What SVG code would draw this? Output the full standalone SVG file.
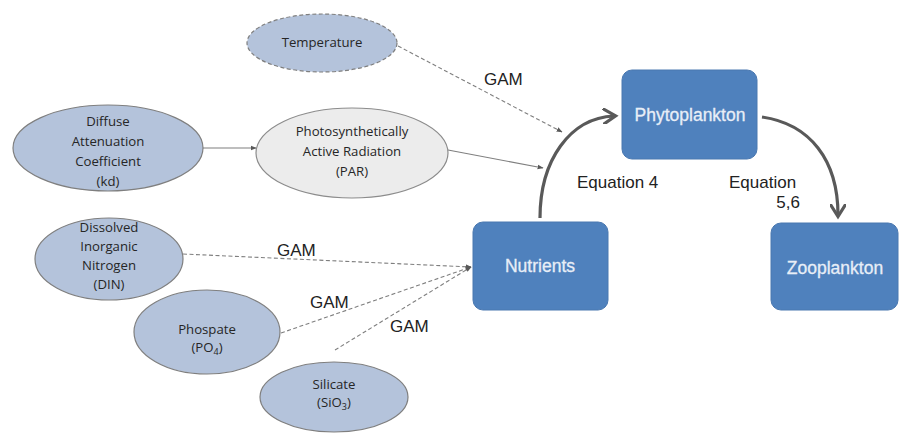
<svg xmlns="http://www.w3.org/2000/svg" width="899" height="437" viewBox="0 0 899 437">
<style>
.ell{fill:#b4c3db;stroke:#7f7f7f;stroke-width:1.2}
.dash{stroke-dasharray:4,2.5}
.et{font-family:"Open Sans","Liberation Sans",sans-serif;font-size:13.2px;fill:#262626;text-anchor:middle}
.box{fill:#4f81bd;stroke:#4a78b0;stroke-width:1}
.bt{font-family:"Liberation Sans",Arial,sans-serif;font-size:17.5px;fill:#e8eef7;text-anchor:middle;stroke:#e8eef7;stroke-width:0.3}
.lbl{font-family:"Liberation Sans",Arial,sans-serif;font-size:17px;fill:#222}
.thin{fill:none;stroke:#7f7f7f;stroke-width:1.1}
.thick{fill:none;stroke:#595959;stroke-width:3.2}
</style>
<defs>
<marker id="sm" viewBox="0 0 10 10" refX="9" refY="5" markerWidth="6" markerHeight="6" markerUnits="userSpaceOnUse" orient="auto"><path d="M0,1 L10,5 L0,9 z" fill="#595959"/></marker>
<marker id="big" viewBox="0 0 10 10" refX="7" refY="5" markerWidth="5" markerHeight="5" orient="auto"><path d="M0,0 L8,5 L0,10" fill="none" stroke="#595959" stroke-width="2"/></marker>
</defs>
<g id="connectors">
<path class="thin dash" d="M398,46 L562,132" marker-end="url(#sm)"/>
<path class="thin" d="M203,148 L256,148" marker-end="url(#sm)"/>
<path class="thin" d="M448,150 L543,168" marker-end="url(#sm)"/>
<path class="thin dash" d="M183,254 L471,267" marker-end="url(#sm)"/>
<path class="thin dash" d="M281,333 L471,267" marker-end="url(#sm)"/>
<path class="thin dash" d="M335,350 L471,267" marker-end="url(#sm)"/>
<path class="thick" d="M540,218 C540,160 570,118 614,116" marker-end="url(#big)"/>
<path class="thick" d="M762,117 C810,124 838,160 838,215" marker-end="url(#big)"/>
<text class="lbl" x="484" y="85">GAM</text>
<text class="lbl" x="277" y="256">GAM</text>
<text class="lbl" x="310" y="308">GAM</text>
<text class="lbl" x="390" y="332">GAM</text>
<text class="lbl" x="577" y="188">Equation 4</text>
<text class="lbl" x="729" y="188">Equation</text>
<text class="lbl" x="800" y="208" text-anchor="end">5,6</text>
</g>
<g id="temperature">
<ellipse class="ell dash" cx="322" cy="43" rx="75" ry="29"/>
<text class="et" x="322" y="47">Temperature</text>
</g>
<g id="kd">
<ellipse class="ell" cx="108" cy="148" rx="95" ry="43"/>
<text class="et" x="108" y="126">Diffuse</text>
<text class="et" x="108" y="146">Attenuation</text>
<text class="et" x="108" y="166">Coefficient</text>
<text class="et" x="108" y="186">(kd)</text>
</g>
<g id="par">
<ellipse cx="352" cy="153" rx="96" ry="45" fill="#ececec" stroke="#8c8c8c" stroke-width="1.2"/>
<text class="et" x="352" y="136">Photosynthetically</text>
<text class="et" x="352" y="156">Active Radiation</text>
<text class="et" x="352" y="176">(PAR)</text>
</g>
<g id="din">
<ellipse class="ell" cx="109" cy="259" rx="74" ry="41"/>
<text class="et" x="109" y="232">Dissolved</text>
<text class="et" x="109" y="251">Inorganic</text>
<text class="et" x="109" y="270">Nitrogen</text>
<text class="et" x="109" y="289">(DIN)</text>
</g>
<g id="phosphate">
<ellipse class="ell" cx="207" cy="332" rx="73" ry="42"/>
<text class="et" x="207" y="334">Phospate</text>
<text class="et" x="207" y="352">(PO<tspan font-size="9" dy="3">4</tspan><tspan dy="-3">)</tspan></text>
</g>
<g id="silicate">
<ellipse class="ell" cx="334" cy="397" rx="74" ry="35"/>
<text class="et" x="334" y="389">Silicate</text>
<text class="et" x="334" y="407">(SiO<tspan font-size="9" dy="3">3</tspan><tspan dy="-3">)</tspan></text>
</g>
<g id="nutrients">
<rect class="box" x="473" y="222" width="135" height="88" rx="10"/>
<text class="bt" x="540" y="272">Nutrients</text>
</g>
<g id="phytoplankton">
<rect class="box" x="622" y="70" width="135" height="89" rx="10"/>
<text class="bt" x="690" y="121">Phytoplankton</text>
</g>
<g id="zooplankton">
<rect class="box" x="771" y="223" width="127" height="87" rx="10"/>
<text class="bt" x="835" y="274">Zooplankton</text>
</g>
</svg>
